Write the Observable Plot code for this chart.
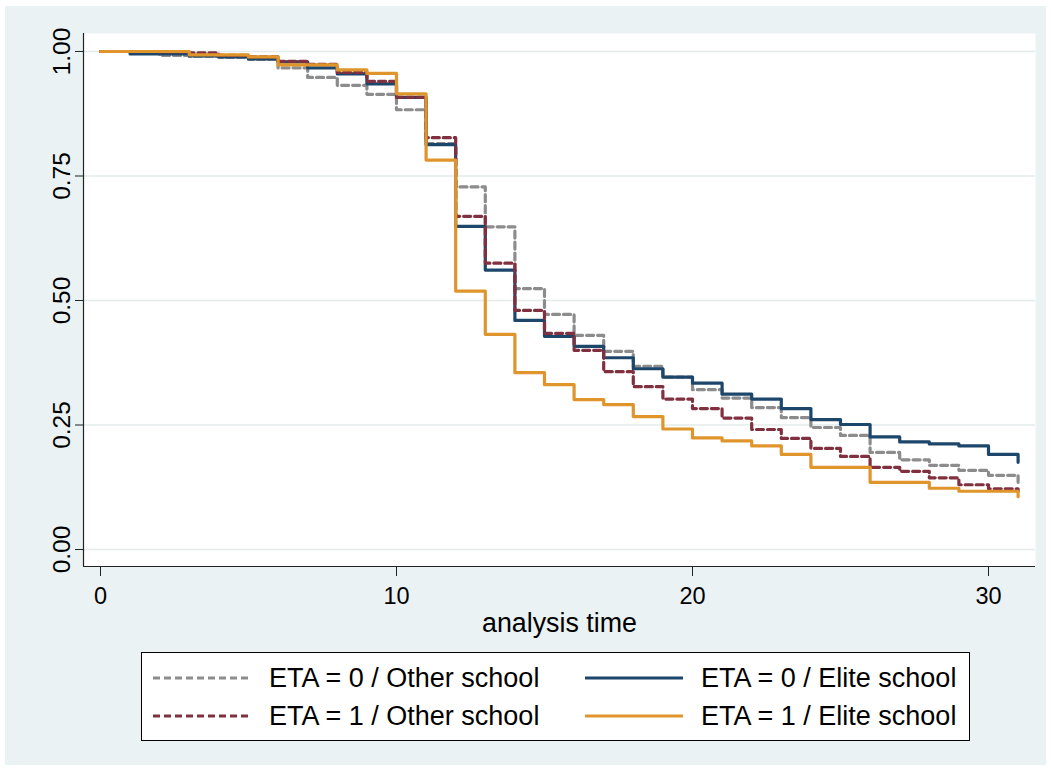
<!DOCTYPE html>
<html><head><meta charset="utf-8">
<script src="https://cdn.jsdelivr.net/npm/d3@7"></script>
<script src="https://cdn.jsdelivr.net/npm/@observablehq/plot@0.6"></script>
<style>
body{margin:0;background:#fff;font-family:"Liberation Sans",Arial,sans-serif;}
#bg{position:absolute;left:5px;top:6px;width:1041px;height:759px;background:#eaf2f3;}
#chart{position:absolute;left:0;top:0;}
#legend{position:absolute;left:141px;top:652px;width:827px;height:87px;border:1px solid #000;background:#fff;}
.item{position:absolute;height:30px;display:flex;align-items:center;font-size:27px;color:#000;white-space:nowrap;}
.item svg{margin-right:18px;}
</style></head><body>
<div id="bg"></div><div id="chart"></div><div id="legend"></div>
<script>
// analysis time (step times)
const times = [0,1,2,3,4,5,6,7,8,9,10,11,12,13,14,15,16,17,18,19,20,21,22,23,24,25,26,27,28,29,30,31];
// Kaplan-Meier survival estimates, value holding from each time to the next
const eta0Other = [1.000,0.996,0.992,0.990,0.988,0.984,0.967,0.948,0.932,0.914,0.883,0.815,0.728,0.648,0.524,0.472,0.430,0.398,0.368,0.346,0.321,0.304,0.285,0.265,0.245,0.229,0.195,0.180,0.169,0.159,0.149,0.135];
const eta0Elite = [1.000,0.995,0.995,0.991,0.989,0.985,0.979,0.967,0.955,0.935,0.908,0.813,0.649,0.561,0.460,0.428,0.408,0.385,0.363,0.346,0.334,0.312,0.302,0.283,0.261,0.251,0.226,0.216,0.212,0.208,0.191,0.175];
const eta1Other = [1.000,1.000,0.999,0.997,0.992,0.989,0.980,0.974,0.958,0.940,0.908,0.827,0.669,0.575,0.480,0.434,0.400,0.357,0.327,0.302,0.283,0.264,0.241,0.223,0.203,0.187,0.165,0.157,0.144,0.130,0.122,0.117];
const eta1Elite = [1.000,1.000,1.000,0.993,0.993,0.989,0.973,0.973,0.963,0.956,0.915,0.782,0.519,0.432,0.355,0.331,0.301,0.291,0.267,0.242,0.224,0.218,0.208,0.191,0.165,0.165,0.135,0.135,0.123,0.117,0.117,0.106];

const seriesNames = ["ETA = 0 / Other school","ETA = 0 / Elite school","ETA = 1 / Other school","ETA = 1 / Elite school"];
const seriesValues = [eta0Other, eta0Elite, eta1Other, eta1Elite];
const seriesColors = ["#8c8c8c","#1c476b","#80303f","#df952c"];
const seriesDash = ["7,4", null, "7,4", null];

const xTicks = [0,10,20,30];
const yTicks = [0,0.25,0.5,0.75,1];
const xDomain = [-0.574, 31.588];
const yDomain = [-0.0341, 1.0361];
const xTitle = "analysis time";

const series = seriesNames.map((name,k)=>({
  name, color: seriesColors[k], dash: seriesDash[k],
  rows: times.map((t,i)=>({t, s: seriesValues[k][i], name}))
}));

const chart = Plot.plot({
  width: 1051, height: 645,
  marginLeft: 83, marginRight: 16, marginTop: 33, marginBottom: 79,
  style: {background: "transparent", fontFamily: "'Liberation Sans', Arial, sans-serif", color: "#000"},
  x: {domain: xDomain},
  y: {domain: yDomain},
  marks: [
    Plot.frame({fill: "white", stroke: "none"}),
    Plot.gridY(yTicks, {stroke: "#e3ebeb", strokeOpacity: 1, strokeWidth: 1.5}),
    ...series.map(s => Plot.line(s.rows, {x: "t", y: "s", curve: "step-after", stroke: s.color, strokeWidth: 3.2, strokeDasharray: s.dash})),
    Plot.ruleX([xDomain[0]], {stroke: "#222", strokeWidth: 1.2}),
    Plot.ruleY([yDomain[0]], {stroke: "#222", strokeWidth: 1.2}),
    Plot.axisY({ticks: yTicks, tickFormat: d => d.toFixed(2), tickRotate: -90, tickSize: 8, tickPadding: 6, fontSize: 24.5, label: null, stroke: "#222"}),
    Plot.axisX({ticks: xTicks, tickSize: 10, tickPadding: 11, fontSize: 23.5, label: null, stroke: "#222"}),
    Plot.text([xTitle], {text: d => d, frameAnchor: "bottom", dy: 65, fontSize: 26.8, lineAnchor: "bottom"})
  ]
});
document.getElementById("chart").appendChild(chart);

// legend (2 columns, row-major)
const legend = document.getElementById("legend");
const legendPos = [[11, 25], [443, 25], [11, 63], [443, 63]];
series.forEach((s, k) => {
  const div = document.createElement("div");
  div.className = "item";
  div.style.left = legendPos[k][0] + "px";
  div.style.top = (legendPos[k][1] - 15) + "px";
  div.innerHTML = `<svg width="98" height="10"><line x1="0" y1="5" x2="98" y2="5" stroke="${s.color}" stroke-width="3" ${s.dash ? `stroke-dasharray="${s.dash}"` : ""}/></svg><span>${s.name}</span>`;
  legend.appendChild(div);
});
</script>
</body></html>
